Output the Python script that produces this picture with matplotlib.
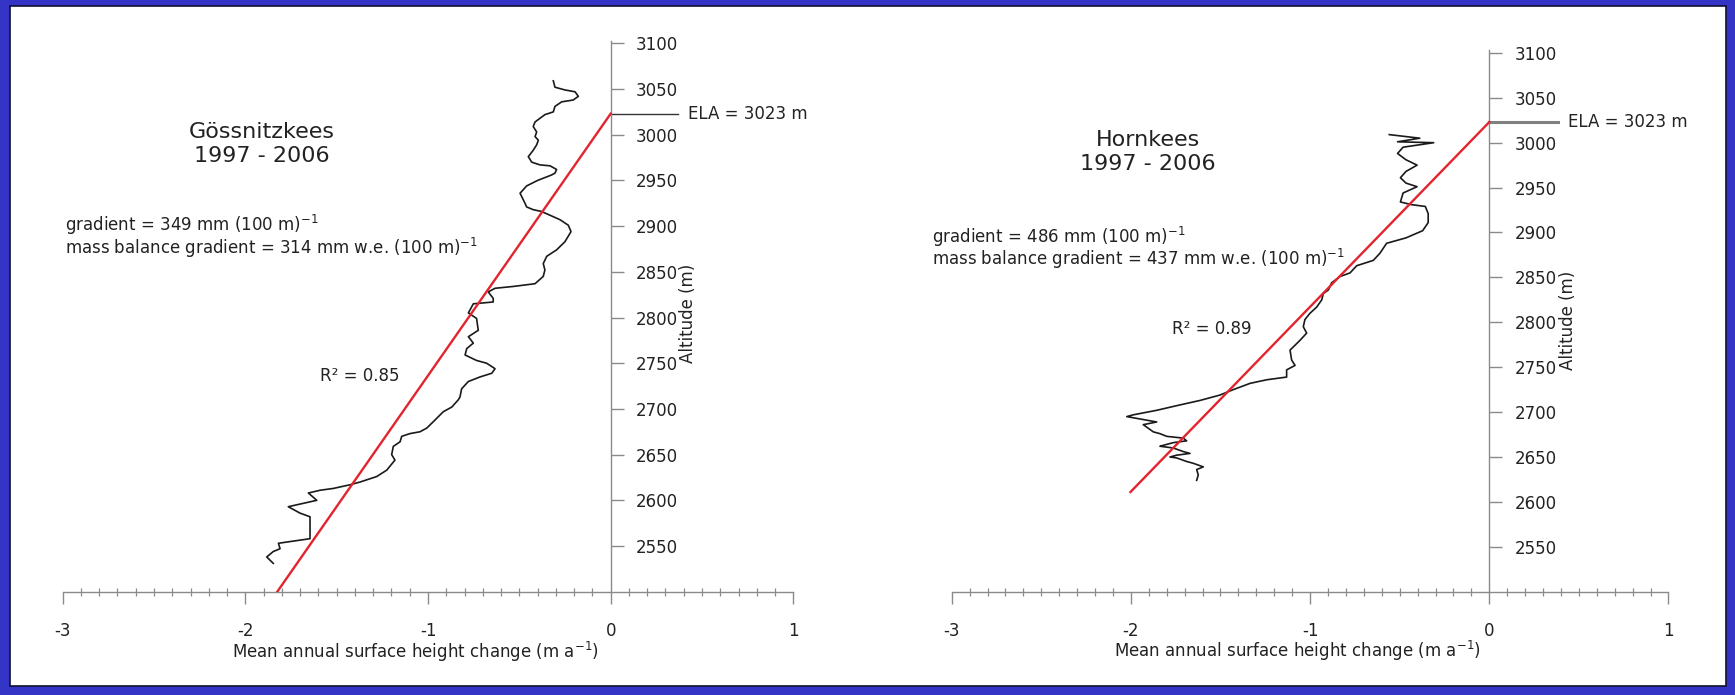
import matplotlib; matplotlib.use("Agg")
import matplotlib.pyplot as plt
from matplotlib.patches import Rectangle
from matplotlib.ticker import MultipleLocator

plt.rcParams["font.family"] = ["DejaVu Sans"]
plt.rcParams["axes.unicode_minus"] = False

# Goessnitzkees: mean annual surface height change (m/a) by altitude (m), top to bottom
goe_dh = [-0.314, -0.305, -0.250, -0.195, -0.177, -0.205, -0.268, -0.305, -0.314, -0.360,
          -0.387, -0.414, -0.424, -0.405, -0.414, -0.396, -0.405, -0.424, -0.451, -0.432,
          -0.387, -0.332, -0.296, -0.305, -0.323, -0.400, -0.460, -0.496, -0.469, -0.460,
          -0.424, -0.378, -0.277, -0.232, -0.217, -0.250, -0.296, -0.350, -0.369, -0.360,
          -0.369, -0.414, -0.533, -0.633, -0.670, -0.643, -0.643, -0.752, -0.779, -0.734,
          -0.725, -0.779, -0.752, -0.788, -0.797, -0.734, -0.679, -0.633, -0.651, -0.715,
          -0.779, -0.816, -0.825, -0.834, -0.870, -0.916, -0.971, -1.007, -1.044, -1.099,
          -1.144, -1.153, -1.190, -1.199, -1.181, -1.226, -1.281, -1.372, -1.427, -1.518,
          -1.591, -1.655, -1.609, -1.765, -1.701, -1.646, -1.646, -1.819, -1.810, -1.847,
          -1.883, -1.847]
goe_z = [3059, 3052, 3049, 3047, 3042, 3038, 3036, 3031, 3025, 3022,
         3018, 3014, 3009, 3003, 2998, 2994, 2989, 2983, 2976, 2970,
         2967, 2966, 2962, 2958, 2956, 2950, 2944, 2936, 2925, 2921,
         2918, 2916, 2907, 2901, 2894, 2883, 2874, 2867, 2859, 2852,
         2845, 2837, 2834, 2832, 2828, 2821, 2817, 2815, 2805, 2799,
         2786, 2779, 2772, 2766, 2759, 2753, 2750, 2744, 2739, 2735,
         2730, 2722, 2713, 2710, 2702, 2697, 2686, 2679, 2675, 2673,
         2670, 2664, 2659, 2650, 2644, 2633, 2626, 2620, 2617, 2613,
         2611, 2608, 2600, 2593, 2586, 2582, 2558, 2553, 2547, 2544,
         2538, 2531]

# Hornkees
hor_dh = [-0.558, -0.388, -0.512, -0.310, -0.481, -0.512, -0.465, -0.403, -0.465, -0.496,
          -0.465, -0.403, -0.481, -0.496, -0.434, -0.357, -0.341, -0.341, -0.372, -0.465,
          -0.573, -0.610, -0.647, -0.740, -0.777, -0.833, -0.880, -0.898, -0.926, -0.935,
          -0.963, -1.001, -1.029, -1.038, -1.019, -1.056, -1.112, -1.103, -1.084, -1.131,
          -1.131, -1.242, -1.335, -1.429, -1.503, -1.614, -1.726, -1.856, -1.986, -2.023,
          -1.856, -1.931, -1.875, -1.838, -1.800, -1.707, -1.689, -1.763, -1.819, -1.838,
          -1.763, -1.707, -1.670, -1.745, -1.782, -1.745, -1.689, -1.652, -1.596, -1.633,
          -1.624, -1.633]
hor_z = [3009, 3005, 3001, 3000, 2995, 2988, 2981, 2975, 2968, 2961,
         2955, 2951, 2944, 2934, 2931, 2929, 2921, 2911, 2902, 2894,
         2888, 2877, 2869, 2863, 2855, 2851, 2844, 2836, 2832, 2825,
         2817, 2810, 2803, 2795, 2788, 2780, 2769, 2758, 2752, 2747,
         2739, 2736, 2732, 2725, 2719, 2713, 2708, 2702, 2697, 2695,
         2689, 2686, 2678, 2676, 2673, 2671, 2668, 2666, 2663, 2662,
         2660, 2656, 2654, 2652, 2650, 2649, 2645, 2643, 2639, 2636,
         2630, 2624]

ela = 3023
grads = [349, 486]          # mm (100 m)^-1
mb_grads = [314, 437]       # mm w.e. (100 m)^-1
r2 = [0.85, 0.89]
fit_zlow = [2500, 2611]     # lower end of the regression line
names = ["Gössnitzkees", "Hornkees"]
period = "1997 - 2006"
xticks = [-3, -2, -1, 0, 1]
yticks = [2550, 2600, 2650, 2700, 2750, 2800, 2850, 2900, 2950, 3000, 3050, 3100]

fig = plt.figure(figsize=(17.35, 6.95), dpi=100)
fig.patch.set_facecolor("#3434c6")
fig.patches.append(Rectangle((0.0058, 0.013), 0.989, 0.978, transform=fig.transFigure,
                             facecolor="white", edgecolor="#111133", lw=1.2, zorder=-10))

axes = [fig.add_axes([0.03614, 0.14863, 0.42110, 0.79295]),
        fig.add_axes([0.54853, 0.14863, 0.41314, 0.77914])]
profiles = [(goe_dh, goe_z), (hor_dh, hor_z)]
# text placement per panel (data coords)
title_xy = [(-1.91, 2990), (-1.905, 2990)]
grad_x = [-2.99, -3.11]
grad_z = [(2901, 2876), (2895, 2871)]
r2_xy = [(-1.59, 2736), (-1.77, 2792)]
ela_style = [dict(color="#333333", lw=1.0), dict(color="#808080", lw=2.2)]
ela_end = [0.37, 0.385]
ylab_xy = [(0.474, 2805), (0.491, 2802)]

for i, ax in enumerate(axes):
    ax.set_facecolor("none")
    ax.set_xlim(-3, 1); ax.set_ylim(2500, 3103)
    for s in ["top", "left"]: ax.spines[s].set_visible(False)
    ax.spines["right"].set_position(("data", 0))
    for s in ["right", "bottom"]: ax.spines[s].set_color("#8a8a8a"); ax.spines[s].set_linewidth(1.0)
    ax.yaxis.set_ticks_position("right"); ax.xaxis.set_ticks_position("bottom")
    ax.set_xticks(xticks); ax.set_xticklabels([str(t) for t in xticks])
    ax.set_yticks(yticks)
    ax.xaxis.set_minor_locator(MultipleLocator(0.1))
    ax.tick_params(axis="x", which="major", direction="out", length=8.5, width=1.0, color="#8a8a8a",
                   pad=13, labelsize=12, labelcolor="#222222")
    ax.tick_params(axis="x", which="minor", direction="inout", length=6, width=0.9, color="#8a8a8a")
    ax.tick_params(axis="y", which="major", direction="out", length=9, width=1.0, color="#8a8a8a",
                   pad=9, labelsize=12, labelcolor="#222222")

    dh, z = profiles[i]
    ax.plot(dh, z, color="#1a1a1a", lw=1.2, zorder=3)
    g = grads[i] / 1e5
    fz = [fit_zlow[i], ela]
    ax.plot([(v - ela) * g for v in fz], fz, color="#e3242e", lw=1.7, zorder=4)
    ax.plot([0, ela_end[i]], [ela, ela], clip_on=False, **ela_style[i])
    ax.text(ela_end[i] + 0.055, ela, f"ELA = {ela} m", fontsize=12, color="#222222",
            va="center", ha="left", clip_on=False)

    ax.text(*title_xy[i], f"{names[i]}\n{period}", fontsize=16, color="#222222",
            ha="center", va="center", linespacing=1.25)
    ax.text(grad_x[i], grad_z[i][0], f"gradient = {grads[i]} mm (100 m)$^{{-1}}$",
            fontsize=12, color="#222222", va="center", ha="left")
    ax.text(grad_x[i], grad_z[i][1], f"mass balance gradient = {mb_grads[i]} mm w.e. (100 m)$^{{-1}}$",
            fontsize=12, color="#222222", va="center", ha="left")
    ax.text(*r2_xy[i], f"R² = {r2[i]:.2f}", fontsize=12, color="#222222", va="center", ha="left")

    ax.set_ylabel("Altitude (m)", fontsize=12, color="#222222")
    ax.yaxis.set_label_coords(*ylab_xy[i], transform=ax.transData)
    ax.set_xlabel("Mean annual surface height change (m a$^{-1}$)", fontsize=12, color="#222222")
    ax.xaxis.set_label_coords(-1.07, 2447, transform=ax.transData)

fig.savefig("out.png", dpi=100, facecolor=fig.get_facecolor())
